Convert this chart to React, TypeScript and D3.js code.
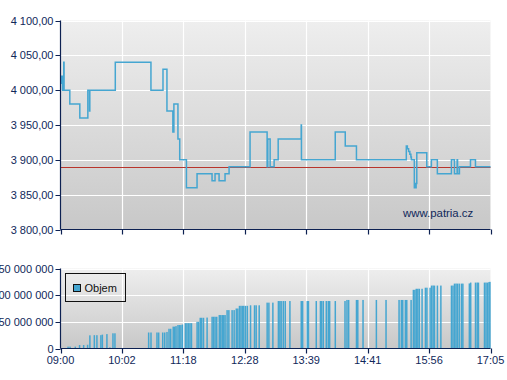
import React from 'react';
import * as d3 from 'd3';

// ---- data ----
const timeLabels = ["09:00", "10:02", "11:18", "12:28", "13:39", "14:41", "15:56", "17:05"];
const priceTicks = [3800, 3850, 3900, 3950, 4000, 4050, 4100];
const volumeTicks = [0, 50000000, 100000000, 150000000];
const referencePrice = 3889;
const watermark = "www.patria.cz";
const legendLabel = "Objem";

// trades: minutes since 09:00, price
const tradeMinutes = [0, 1, 2, 3.3, 3.6, 9.4, 19.5, 27.6, 29.3, 29.6, 55.3, 97.9, 112.8, 117.7, 125, 126.3,
  131.3, 133.5, 141.5, 153.6, 170.7, 174.1, 178.7, 185.5, 190.1, 214.1, 233.8, 234.6, 237.3, 241.9, 246.6,
  273.2, 273.5, 308.3, 318.4, 329.7, 388.2, 389.5, 391, 392.5, 393.8, 394.4, 398, 398.8, 399.5, 400.2, 401,
  413.2, 418.6, 425.3, 441.1, 444.5, 447.5, 448, 450.1, 462.5, 468.1];
const tradePrices = [4010, 4020, 4000, 4040, 4000, 3980, 3960, 4000, 3970, 4000, 4040, 4000, 4030, 3970, 3940, 3980,
  3930, 3900, 3860, 3880, 3870, 3880, 3870, 3880, 3890, 3940, 3890, 3930, 3890, 3900, 3930,
  3950, 3900, 3940, 3920, 3900, 3920, 3916, 3912, 3908, 3904, 3900, 3860, 3866, 3860, 3866, 3910,
  3890, 3900, 3880, 3900, 3880, 3900, 3880, 3890, 3900, 3890];

// volume bars: minutes since 09:00, cumulative volume in millions
const volumeMinutes = [7.6, 9.6, 14.9, 19.2, 23.3, 27.3, 29.6, 34.1, 36.7, 40.7, 42.2, 46.8, 49.8, 52.9, 54.9,
  95.0, 97.9, 105.3, 107.4, 112.4, 114.9, 117.7, 120.2, 122.3, 125.4, 127.3, 128.9, 131.3, 133.1, 134.9, 136.8,
  140.3, 142.0, 143.7, 145.5, 147.2, 153.6, 155.3, 157.2, 158.9, 160.9, 165.0, 170.7, 172.4, 174.1, 176.0,
  178.9, 180.6, 182.3, 184.0, 185.5, 187.8, 189.8, 193.5, 195.8, 198.3, 200.0, 201.9, 203.6, 205.3, 206.8,
  208.8, 210.9, 214.6, 219.2, 221.1, 224.6, 233.8, 235.8, 240.4, 246.8, 248.5, 250.0, 252.4, 254.7, 260.1,
  271.7, 273.2, 274.8, 280.0, 281.2, 289.1, 293.3, 294.5, 296.2, 299.2, 301.2, 302.6, 308.3, 318.1, 320.1,
  321.8, 329.7, 331.0, 336.3, 351.6, 363.4, 379.3, 382.1, 383.8, 387.0, 388.7, 394.0, 396.8, 398.6, 400.3,
  402.2, 404.0, 407.4, 411.5, 413.3, 415.6, 417.1, 418.8, 420.5, 422.0, 425.3, 429.2, 441.1, 442.8, 444.5,
  446.2, 447.8, 449.8, 452.3, 453.9, 461.2, 462.7, 468.1, 470.0, 471.4, 478.2, 479.9, 481.6, 483.3, 484.3];
const volumeMillions = [3.5, 3.5, 3.5, 6.5, 6.5, 7, 24.7, 25, 25, 25, 26, 27, 2, 28.5, 28.5,
  30, 30, 30, 30, 30, 30, 31, 37, 37, 41, 41, 42, 44, 44, 44, 45,
  47.5, 47.5, 47.5, 47.5, 47.5, 50, 50, 57.6, 57.6, 57.6, 58, 59.5, 59.5, 59.5, 59.5,
  62.7, 62.7, 62.7, 62.7, 62.7, 72, 72, 72, 72, 75, 75, 80, 80, 80, 80,
  80, 80, 81, 81, 81, 81, 86, 86, 86, 89, 89, 89, 89, 89, 89,
  1, 89, 89, 89, 89, 89, 89, 89, 89, 89, 89, 89, 89, 89, 91,
  91, 91, 91, 91, 91, 91, 91, 91, 91, 91, 91, 91, 110, 110, 112,
  112, 112, 112, 114, 114, 1, 114, 118, 118, 118, 118, 118, 118, 118, 121.7,
  121.7, 121.7, 121.7, 121.7, 121.7, 122, 123.6, 123.6, 123.6, 123.6, 123.6, 123.6, 123.6, 124.5, 125];

// ---- helpers ----
const toMin = (s: string) => {
  const [h, m] = s.split(':').map(Number);
  return (h - 9) * 60 + m;
};
const fmtPrice = (v: number) => d3.format(",.2f")(v).replace(/,/g, ' ').replace('.', ',');
const fmtVol = (v: number) => d3.format(",")(v).replace(/,/g, ' ');

const W = 507, H = 380;
const X0 = 60.5, X1 = 490.5;
const PT = 20.5, PB = 229.5;
const VT = 268.5, VB = 348.5;
const AXIS = '#0d2152';
const TEXT = '#10285a';
const BLUE = '#45a6d1';
const FONT = '"Liberation Sans", Arial, sans-serif';

export default function App() {
  const tickMins = timeLabels.map(toMin);
  const x = d3.scaleLinear()
    .domain(tickMins)
    .range(tickMins.map((_, i) => X0 + (i * (X1 - X0)) / (tickMins.length - 1)));
  const yP = d3.scaleLinear().domain([3800, 4100]).range([PB, PT]);
  const yV = d3.scaleLinear().domain([0, 150000000]).range([VB, VT]);

  const trades: [number, number][] = tradeMinutes.map((m, i) => [m, tradePrices[i]]);
  trades.push([tickMins[tickMins.length - 1], tradePrices[tradePrices.length - 1]]);
  const line = d3.line<[number, number]>()
    .x(d => x(d[0]))
    .y(d => yP(d[1]))
    .curve(d3.curveStepAfter);

  const gridV = tickMins.slice(1);

  return (
    <svg width={W} height={H} style={{ position: 'absolute', left: 0, top: 0, fontFamily: FONT }}>
      <defs>
        <linearGradient id="bgP" x1="0" y1="0" x2="0" y2="1">
          <stop offset="0" stopColor="#eeeeee" />
          <stop offset="1" stopColor="#c8c8c8" />
        </linearGradient>
        <linearGradient id="bgV" x1="0" y1="0" x2="0" y2="1">
          <stop offset="0" stopColor="#eeeeee" />
          <stop offset="1" stopColor="#c8c8c8" />
        </linearGradient>
      </defs>
      <rect width={W} height={H} fill="#ffffff" />

      {/* ---- price panel ---- */}
      <rect x={X0} y={PT} width={X1 - X0} height={PB - PT} fill="url(#bgP)" />
      {priceTicks.slice(1).map(t => (
        <line key={'gp' + t} x1={X0} x2={X1} y1={Math.round(yP(t)) + 0.5} y2={Math.round(yP(t)) + 0.5}
          stroke="#ffffff" strokeWidth={1.2} />
      ))}
      {gridV.map(m => (
        <line key={'gvp' + m} x1={Math.round(x(m)) + 0.5} x2={Math.round(x(m)) + 0.5} y1={PT} y2={PB}
          stroke="#ffffff" strokeWidth={1.2} />
      ))}
      <line x1={X0} x2={X1} y1={yP(referencePrice)} y2={yP(referencePrice)} stroke="#b8342c" strokeWidth={1.2} />
      <path d={line(trades) || ''} fill="none" stroke={BLUE} strokeWidth={1.5} />
      <text x={403} y={217} fontSize={11.4} fill={TEXT}>{watermark}</text>
      <line x1={X0} x2={X0} y1={PT} y2={PB} stroke={AXIS} strokeWidth={1.2} />
      <line x1={X0} x2={X1} y1={PB} y2={PB} stroke={AXIS} strokeWidth={1.2} />
      {priceTicks.map(t => (
        <g key={'tp' + t}>
          <line x1={X0 - 5} x2={X0} y1={Math.round(yP(t)) + 0.5} y2={Math.round(yP(t)) + 0.5} stroke={AXIS} />
          <text x={53.5} y={yP(t) + 4} fontSize={11} fill={TEXT} textAnchor="end">{fmtPrice(t)}</text>
        </g>
      ))}
      {tickMins.map(m => (
        <line key={'txp' + m} x1={Math.round(x(m)) + 0.5} x2={Math.round(x(m)) + 0.5} y1={PB} y2={PB + 5} stroke={AXIS} strokeWidth={1.2} />
      ))}

      {/* ---- volume panel ---- */}
      <rect x={X0} y={VT} width={X1 - X0} height={VB - VT} fill="url(#bgV)" />
      {volumeTicks.slice(1).map(t => (
        <line key={'gv' + t} x1={X0} x2={X1} y1={Math.round(yV(t)) + 0.5} y2={Math.round(yV(t)) + 0.5}
          stroke="#ffffff" strokeWidth={1.2} />
      ))}
      {gridV.map(m => (
        <line key={'gvv' + m} x1={Math.round(x(m)) + 0.5} x2={Math.round(x(m)) + 0.5} y1={VT} y2={VB}
          stroke="#ffffff" strokeWidth={1.2} />
      ))}
      {volumeMinutes.map((m, i) => {
        const v = volumeMillions[i] * 1e6;
        return (
          <rect key={'vb' + i} x={x(m) - 0.7} y={yV(v)} width={1.5} height={VB - yV(v)} fill={BLUE} />
        );
      })}
      <line x1={X0} x2={X0} y1={VT} y2={VB} stroke={AXIS} strokeWidth={1.2} />
      <line x1={X0} x2={X1} y1={VB} y2={VB} stroke={AXIS} strokeWidth={1.2} />
      {volumeTicks.map(t => (
        <g key={'tv' + t}>
          <line x1={X0 - 5} x2={X0} y1={Math.round(yV(t)) + 0.5} y2={Math.round(yV(t)) + 0.5} stroke={AXIS} />
          <text x={53.5} y={yV(t) + 4} fontSize={11} fill={TEXT} textAnchor="end">{fmtVol(t)}</text>
        </g>
      ))}
      {tickMins.map((m, i) => (
        <g key={'txv' + m}>
          <line x1={Math.round(x(m)) + 0.5} x2={Math.round(x(m)) + 0.5} y1={VB} y2={VB + 5} stroke={AXIS} strokeWidth={1.2} />
          <text x={x(m)} y={364} fontSize={11} fill={TEXT} textAnchor="middle">{timeLabels[i]}</text>
        </g>
      ))}

      {/* legend */}
      <rect x={65.5} y={273.5} width={60} height={28} fill="none" stroke="#111111" />
      <rect x={73.5} y={284.5} width={7} height={7} fill={BLUE} stroke="#111111" />
      <text x={84.5} y={292} fontSize={11} fill="#111111">{legendLabel}</text>
    </svg>
  );
}
